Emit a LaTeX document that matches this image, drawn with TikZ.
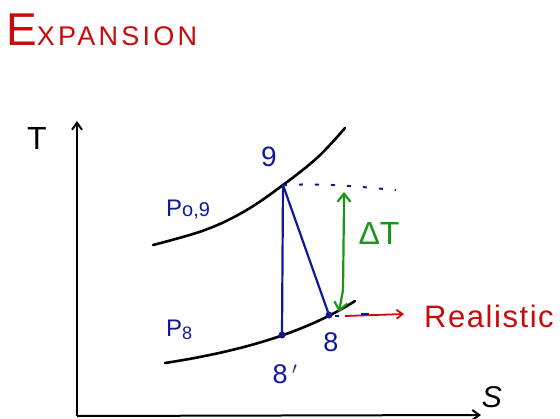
\documentclass[tikz,border=0pt]{standalone}
\usepackage{fontspec}
\setmainfont{Liberation Sans}
\usetikzlibrary{arrows.meta}
\definecolor{hred}{RGB}{200,10,10}
\definecolor{hblue}{RGB}{15,25,150}
\definecolor{hgreen}{RGB}{25,150,25}
\tikzset{
  curve/.style={line width=2.6pt, black, line cap=round},
  axis/.style={line width=2pt, black, -{Straight Barb[length=7pt,width=10pt,line width=2pt]}},
  bline/.style={line width=2.2pt, hblue},
  dotline/.style={line width=2pt, hblue, dash pattern=on 4pt off 12pt},
  lbl/.style={inner sep=0pt},
  pt/.style={circle, fill=hblue, inner sep=0pt, minimum size=7pt}
}
\begin{document}
\begin{tikzpicture}[x=1pt,y=-1pt]
\useasboundingbox (0,0) rectangle (560,418);
% title
\node[lbl, anchor=base west, text=hred] (title) at (6,45)
  {\fontsize{46}{46}\selectfont E\fontsize{27}{27}\selectfont\addfontfeature{LetterSpace=12}XPANSION};
% partial glyph top right
\draw[line width=2.6pt] (514,-1) arc[start angle=180, end angle=360, x radius=6.5, y radius=5.5];
% axes
\coordinate (O) at (77,416);
\coordinate (Ytop) at (77,121);
\coordinate (Xend) at (481,415);
\draw[axis] (O) -- (Ytop);
\draw[axis] (O) -- (Xend);
\node[lbl, font=\fontsize{32}{32}\selectfont] (T) at (37,138) {T};
\node[lbl, font=\fontsize{30}{30}\selectfont\itshape] (S) at (492,397) {S};
% isobars
\draw[curve] plot[smooth, tension=0.6] coordinates {(153,245) (205,230) (245,211) (283,185) (318,157) (345,128)};
\draw[curve] (165,363) .. controls (230,353) and (300,336) .. (355,301);
% points
\coordinate (p9) at (283,185);
\node[pt] (p8s) at (282,335) {};
\node[pt] (p8) at (329,315) {};
\draw[bline] (p9) -- (p8s.center);
\draw[bline] (p9) -- (p8.center);
% dotted horizontal
\coordinate (dend) at (396,190);
\draw[dotline] (p9) .. controls (330,183) and (360,187) .. (dend);
% labels
\node[lbl, text=hblue, font=\fontsize{28}{28}\selectfont] (l9) at (269,157) {9};
\node[lbl, text=hblue, font=\fontsize{27}{27}\selectfont] (l8s) at (285,374) {8\,$'$};
\node[lbl, text=hblue, font=\fontsize{27}{27}\selectfont] (l8) at (331,342) {8};
\node[lbl, text=hblue, anchor=base west] (P09) at (166,216)
  {\fontsize{24}{24}\selectfont P\fontsize{20}{20}\selectfont o,9};
\node[lbl, text=hblue, anchor=base west] (P8) at (166,336)
  {\fontsize{24}{24}\selectfont P\fontsize{18}{18}\selectfont\raisebox{-3pt}{8}};
% delta T arrow
\coordinate (gtop) at (344,192);
\coordinate (gbot) at (339,312);
\draw[hgreen, line width=2.2pt, {Straight Barb[length=8pt,width=13pt]}-{Straight Barb[length=8pt,width=13pt]}]
  (gtop) -- (344,205) -- (343,290) -- (gbot);
\node[lbl, text=hgreen, font=\fontsize{32}{32}\selectfont] (dT) at (379,233) {ΔT};
% realistic arrow
\coordinate (rstart) at (345,316);
\coordinate (rend) at (404,314);
\draw[hred, line width=1.8pt, -{Straight Barb[length=6pt,width=9pt]}] (rstart) -- (rend);
\draw[hblue, line width=2pt] (335,316) -- (339,316) (361,314) -- (369,314);
\node[lbl, text=hred, anchor=base west, font=\fontsize{31}{31}\selectfont\addfontfeature{LetterSpace=5}] (real) at (424,327) {Realistic};
\end{tikzpicture}
\end{document}
